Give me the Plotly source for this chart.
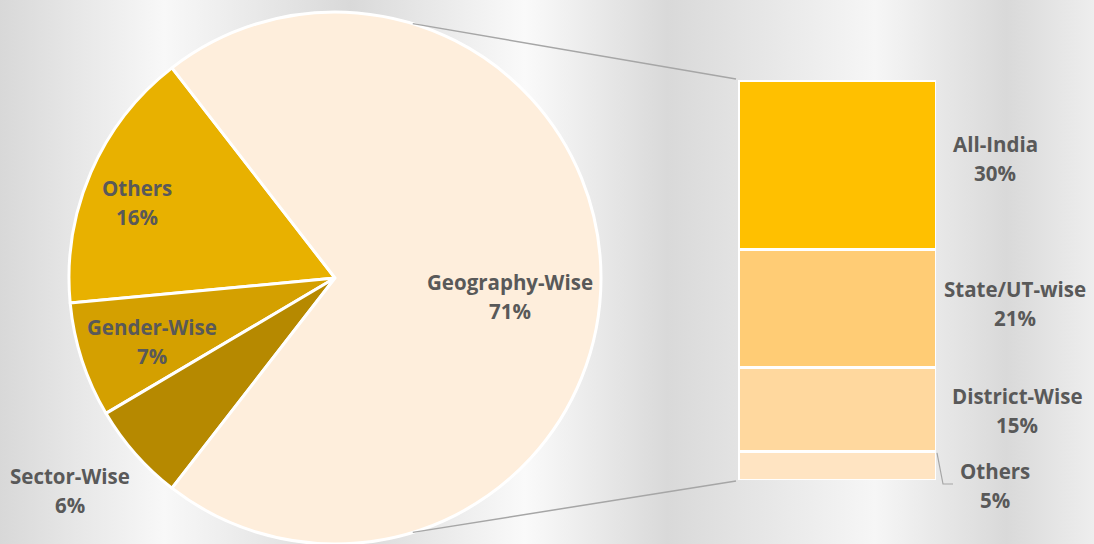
import math
import plotly.graph_objects as go

W, H = 1094, 544

# ---------------- data ----------------
pie_labels = ["Others", "Gender-Wise", "Sector-Wise", "Geography-Wise"]
pie_values = [16, 7, 6, 71]
pie_colors = ["#E8B100", "#D4A000", "#B68900", "#FEEEDC"]

bar_labels = ["Others", "District-Wise", "State/UT-wise", "All-India"]   # bottom -> top
bar_values = [5, 15, 21, 30]
bar_colors = ["#FFE4C2", "#FFD89E", "#FFCC75", "#FFC000"]

# label block centres (pixels, from top-left)
pie_label_pos = {"Others": (137, 202), "Gender-Wise": (152, 341.5),
                 "Sector-Wise": (70, 490), "Geography-Wise": (510, 296.5)}
bar_label_pos = {"All-India": (995, 158), "State/UT-wise": (1015, 303),
                 "District-Wise": (1017, 410.5), "Others": (995, 485)}

bg_stops = [[0.0, "#D8D8D8"], [0.15, "#F8F8F8"], [0.32, "#D9D9D9"], [0.48, "#FAFAFA"],
            [0.61, "#D9D9D9"], [0.80, "#F6F6F6"], [0.92, "#D9D9D9"], [1.0, "#EEEEEE"]]

TEXT = "#595959"
FONT = "Open Sans"
FS = 20.5
LINE_GAP = 29

def px(x):
    return x / W

def py(y):
    return (H - y) / H

# pie geometry
cx, cy, R = 335, 278, 266
pie_dom_x = [px(cx - R), px(cx + R)]
pie_dom_y = [py(cy + R), py(cy - R)]
tot = sum(pie_values)
geo_share = pie_values[pie_labels.index("Geography-Wise")] / tot
# plotly (counterclockwise): first slice spans clockwise angles [rotation, rotation + share*360]
rotation = -(geo_share * 180 - 90) - pie_values[0] / tot * 360

# bar geometry
bar_left, bar_right, bar_top, bar_bottom = 738, 936, 80, 480
total_bar = sum(bar_values)

fig = go.Figure()

# background gradient
fig.add_trace(go.Scatter(
    x=[0, 1, 1, 0, 0], y=[0, 0, 1, 1, 0], mode="lines", fill="toself",
    line=dict(width=0), fillgradient=dict(type="horizontal", colorscale=bg_stops),
    xaxis="x", yaxis="y", hoverinfo="skip", showlegend=False))

# stacked bar
for lab, v, c in zip(bar_labels, bar_values, bar_colors):
    fig.add_trace(go.Bar(
        x=[0], y=[v], width=1, name=lab,
        marker=dict(color=c, line=dict(color="white", width=3)),
        xaxis="x2", yaxis="y2", showlegend=False, hoverinfo="skip"))

# pie
fig.add_trace(go.Pie(
    labels=pie_labels, values=pie_values, sort=False, direction="counterclockwise",
    rotation=rotation, marker=dict(colors=pie_colors, line=dict(color="white", width=3)),
    textinfo="none", domain=dict(x=pie_dom_x, y=pie_dom_y), showlegend=False,
    hoverinfo="label+percent"))

annotations = []

def add_label(name, pct, pos):
    x, y = pos
    for txt, yy in ((name, y - LINE_GAP / 2), (pct, y + LINE_GAP / 2)):
        annotations.append(dict(
            x=px(x), y=py(yy), xref="paper", yref="paper", showarrow=False,
            xanchor="center", yanchor="middle", text=txt,
            font=dict(family=FONT, size=FS, color=TEXT, weight=700)))

for lab, v in zip(pie_labels, pie_values):
    add_label(lab, f"{round(100 * v / tot)}%", pie_label_pos[lab])
for lab, v in zip(bar_labels, bar_values):
    add_label(lab, f"{v}%", bar_label_pos[lab])

ang = math.radians(73)
up = (cx + R * math.cos(ang), cy - R * math.sin(ang))
lo = (cx + R * math.cos(-ang), cy - R * math.sin(-ang))
shapes = [
    dict(type="line", xref="paper", yref="paper", x0=px(up[0]), y0=py(up[1]),
         x1=px(bar_left - 2), y1=py(bar_top - 1), line=dict(color="#A6A6A6", width=1.5)),
    dict(type="line", xref="paper", yref="paper", x0=px(lo[0]), y0=py(lo[1]),
         x1=px(bar_left - 2), y1=py(bar_bottom + 1), line=dict(color="#A6A6A6", width=1.5)),
]
# leader for small bar segment label
others_top = bar_bottom - (bar_bottom - bar_top) * bar_values[0] / total_bar
shapes.append(dict(type="path", xref="paper", yref="paper",
                   path=f"M {px(937)},{py(others_top + 1)} L {px(943)},{py(484)} L {px(953)},{py(484)}",
                   line=dict(color="#A6A6A6", width=1.2)))

fig.update_layout(
    width=W, height=H, margin=dict(l=0, r=0, t=0, b=0),
    paper_bgcolor="#E0E0E0", plot_bgcolor="rgba(0,0,0,0)",
    barmode="stack", showlegend=False,
    xaxis=dict(domain=[0, 1], range=[0, 1], visible=False, fixedrange=True),
    yaxis=dict(domain=[0, 1], range=[0, 1], visible=False, fixedrange=True),
    xaxis2=dict(domain=[px(bar_left), px(bar_right)], range=[-0.5, 0.5], visible=False, anchor="y2"),
    yaxis2=dict(domain=[py(bar_bottom), py(bar_top)], range=[0, total_bar], visible=False, anchor="x2"),
    annotations=annotations, shapes=shapes,
)

fig.write_html("out.html", config={"displayModeBar": False},
               post_script="document.body.style.margin='0px';document.body.style.overflow='hidden';")
